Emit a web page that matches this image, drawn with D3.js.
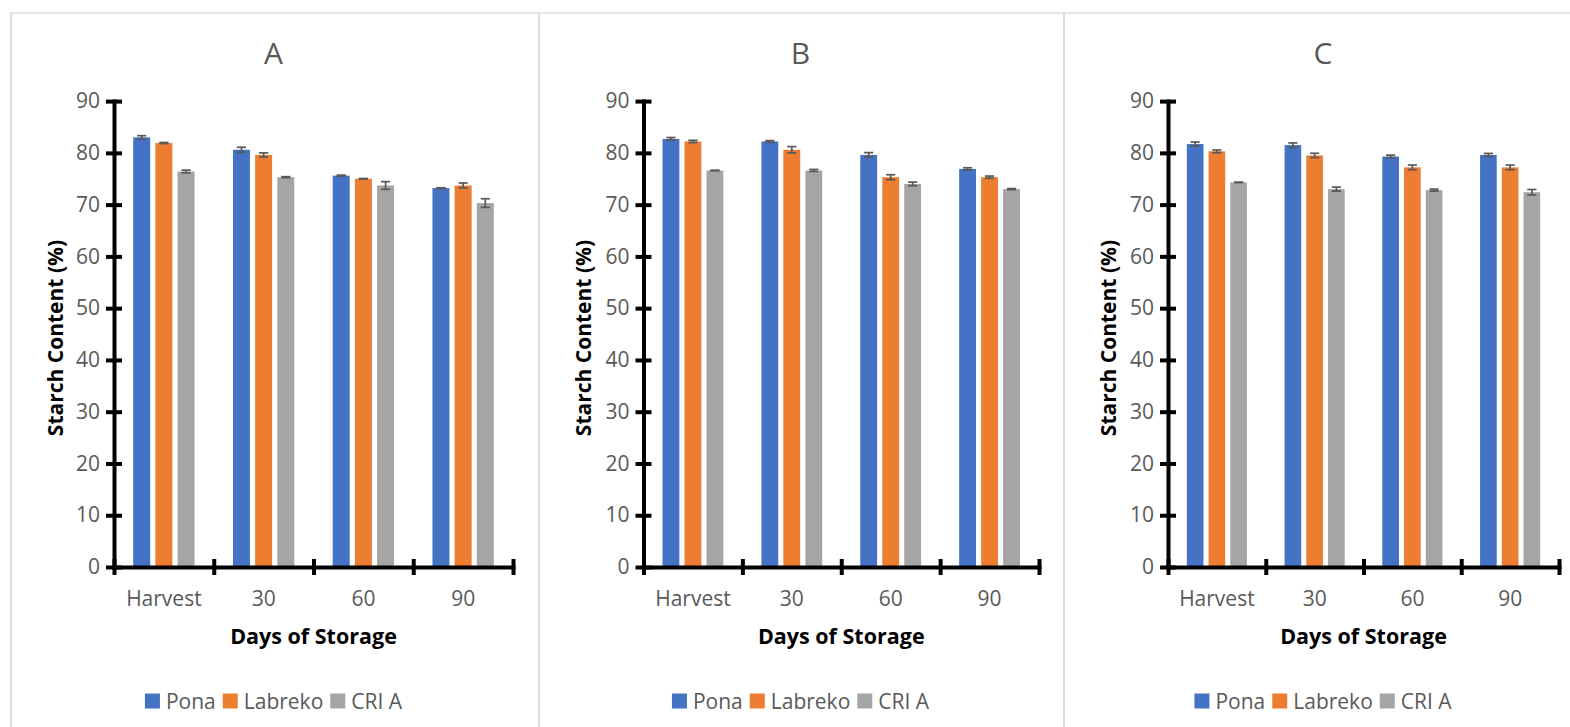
<!DOCTYPE html>
<html>
<head>
<meta charset="utf-8">
<script src="https://cdn.jsdelivr.net/npm/d3@7"></script>
<style>
  html, body { margin: 0; padding: 0; background: #ffffff; }
  svg { display: block; font-family: "Open Sans", "Noto Sans", sans-serif; }
</style>
</head>
<body>
<svg id="chart" width="1570" height="727"></svg>
<script>
// ---------- data ----------
const categories = ["Harvest", "30", "60", "90"];
const seriesNames = ["Pona", "Labreko", "CRI A"];
const panelTitles = ["A", "B", "C"];
const yTicks = [0, 10, 20, 30, 40, 50, 60, 70, 80, 90];
const xAxisTitle = "Days of Storage";
const yAxisTitle = "Starch Content (%)";

// Panel A
const ponaA    = [83.0, 80.6, 75.6, 73.2];
const labrekoA = [81.9, 79.6, 75.0, 73.7];
const criA_A   = [76.4, 75.3, 73.7, 70.3];
const ponaErrA    = [0.32, 0.48, 0.10, 0.06];
const labrekoErrA = [0.10, 0.39, 0.05, 0.48];
const criErrA     = [0.26, 0.10, 0.74, 0.84];

// Panel B
const ponaB    = [82.7, 82.2, 79.6, 76.9];
const labrekoB = [82.2, 80.6, 75.3, 75.3];
const criA_B   = [76.6, 76.6, 74.0, 73.0];
const ponaErrB    = [0.26, 0.16, 0.45, 0.22];
const labrekoErrB = [0.22, 0.61, 0.48, 0.22];
const criErrB     = [0.05, 0.20, 0.35, 0.10];

// Panel C
const ponaC    = [81.7, 81.5, 79.3, 79.6];
const labrekoC = [80.3, 79.5, 77.2, 77.2];
const criA_C   = [74.3, 73.0, 72.8, 72.4];
const ponaErrC    = [0.39, 0.42, 0.26, 0.29];
const labrekoErrC = [0.26, 0.42, 0.45, 0.45];
const criErrC     = [0.03, 0.39, 0.20, 0.52];

// ---------- styles / layout ----------
const colors = ["#4472C4", "#ED7D31", "#A5A5A5"];
const textGray = "#595959";
const frameColor = "#dcdcdc";

const panels = [
  { title: panelTitles[0], values: [ponaA, labrekoA, criA_A], errs: [ponaErrA, labrekoErrA, criErrA],
    x0: 11, x1: 539, plotL: 114, plotR: 513, center: 273.5 },
  { title: panelTitles[1], values: [ponaB, labrekoB, criA_B], errs: [ponaErrB, labrekoErrB, criErrB],
    x0: 539, x1: 1064, plotL: 643.5, plotR: 1039, center: 800.5 },
  { title: panelTitles[2], values: [ponaC, labrekoC, criA_C], errs: [ponaErrC, labrekoErrC, criErrC],
    x0: 1064, x1: 1589, plotL: 1168, plotR: 1559, center: 1323 }
];

const plotTop = 101.1, plotBottom = 567;
const svg = d3.select("#chart");
svg.append("rect").attr("width", 1570).attr("height", 727).attr("fill", "#fff");

// frame lines
svg.append("line").attr("x1", 11).attr("x2", 1570).attr("y1", 13).attr("y2", 13)
  .attr("stroke", frameColor).attr("stroke-width", 1.6);
[11, 539, 1064].forEach(x => {
  svg.append("line").attr("x1", x).attr("x2", x).attr("y1", 12.2).attr("y2", 727)
    .attr("stroke", frameColor).attr("stroke-width", 2);
});

const y = d3.scaleLinear().domain([0, 90]).range([plotBottom, plotTop]);

panels.forEach(p => {
  const g = svg.append("g");

  // title
  g.append("text").attr("x", p.center).attr("y", 63.5)
    .attr("text-anchor", "middle").attr("font-size", 30).attr("fill", textGray)
    .text(p.title);

  const x0 = d3.scaleBand().domain(categories).range([p.plotL, p.plotR]).padding(0);
  const groupW = x0.bandwidth() * 0.615;
  const x1 = d3.scaleBand().domain(seriesNames).range([0, groupW]).paddingInner(0.234).paddingOuter(0);
  const groupOff = (x0.bandwidth() - groupW) / 2;

  // bars
  seriesNames.forEach((s, si) => {
    const data = categories.map((c, ci) => ({ c, v: p.values[si][ci], e: p.errs[si][ci] }));
    g.append("g").selectAll("rect").data(data).join("rect")
      .attr("x", d => x0(d.c) + groupOff + x1(s))
      .attr("y", d => y(d.v))
      .attr("width", x1.bandwidth())
      .attr("height", d => y(0) - y(d.v))
      .attr("fill", colors[si]);

    // error bars
    const eg = g.append("g").attr("stroke", "#595959").attr("stroke-width", 1.7).attr("fill", "none");
    data.forEach(d => {
      const cx = x0(d.c) + groupOff + x1(s) + x1.bandwidth() / 2;
      const yt = y(d.v + d.e), yb = y(d.v - d.e);
      eg.append("line").attr("x1", cx).attr("x2", cx).attr("y1", yt).attr("y2", yb);
      eg.append("line").attr("x1", cx - 4.6).attr("x2", cx + 4.6).attr("y1", yt).attr("y2", yt);
      eg.append("line").attr("x1", cx - 4.6).attr("x2", cx + 4.6).attr("y1", yb).attr("y2", yb);
    });
  });

  // y axis
  const yAxis = g.append("g").attr("transform", `translate(${p.plotL},0)`)
    .call(d3.axisLeft(y).tickValues(yTicks).tickSize(8).tickSizeOuter(0).tickPadding(6));
  yAxis.select(".domain").attr("stroke", "#000").attr("stroke-width", 4).attr("stroke-linecap", "square");
  yAxis.selectAll(".tick line").attr("x1", -8).attr("x2", 8).attr("stroke", "#000").attr("stroke-width", 4);
  yAxis.selectAll(".tick text").attr("x", -14).attr("font-size", 21).attr("fill", textGray)
    .attr("font-family", "'Open Sans', sans-serif");

  // x axis: boundary ticks
  const xb = d3.scaleLinear().domain([0, categories.length]).range([p.plotL, p.plotR]);
  const xAxis = g.append("g").attr("transform", `translate(0,${plotBottom})`)
    .call(d3.axisBottom(xb).tickValues(d3.range(0, categories.length + 1)).tickFormat("").tickSize(8).tickSizeOuter(0));
  xAxis.select(".domain").attr("stroke", "#000").attr("stroke-width", 4).attr("stroke-linecap", "square");
  xAxis.selectAll(".tick line").attr("y1", -8).attr("y2", 8).attr("stroke", "#000").attr("stroke-width", 4);

  // x category labels
  const xl = g.append("g").attr("transform", `translate(0,${plotBottom})`)
    .call(d3.axisBottom(x0).tickSize(0).tickPadding(0));
  xl.select(".domain").remove();
  xl.selectAll(".tick text").attr("dy", null).attr("y", 38.5).attr("font-size", 21).attr("fill", textGray)
    .attr("font-family", "'Open Sans', sans-serif");

  // axis titles
  g.append("text").attr("x", (p.plotL + p.plotR) / 2).attr("y", 644)
    .attr("text-anchor", "middle").attr("font-size", 21.5).attr("font-weight", "bold").attr("fill", "#000")
    .text(xAxisTitle);
  g.append("text")
    .attr("transform", `translate(${p.x0 + 51.5},${(plotTop + plotBottom) / 2 + 4}) rotate(-90)`)
    .attr("text-anchor", "middle").attr("font-size", 21).attr("font-weight", "bold").attr("fill", "#000")
    .text(yAxisTitle);

  // legend
  const lg = g.append("g");
  const sq = 15, gapT = 6, gapItem = 7;
  let cursor = 0;
  seriesNames.forEach((s, si) => {
    const it = lg.append("g");
    it.append("rect").attr("x", 0).attr("y", -sq / 2).attr("width", sq).attr("height", sq).attr("fill", colors[si]);
    const t = it.append("text").attr("x", sq + gapT).attr("y", 8).attr("font-size", 21).attr("fill", textGray).text(s);
    const w = sq + gapT + t.node().getComputedTextLength();
    it.attr("transform", `translate(${cursor},0)`);
    cursor += w + gapItem;
  });
  const totalW = cursor - gapItem;
  lg.attr("transform", `translate(${p.center - totalW / 2},701)`);
});
</script>
</body>
</html>
